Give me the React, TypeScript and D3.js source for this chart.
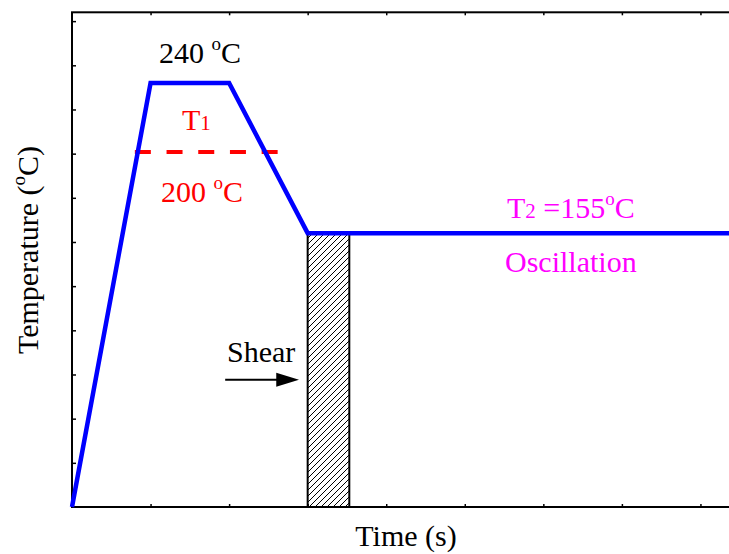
import React from "react";
import * as d3 from "d3";

// temperature program (time in arbitrary units, one tick = one unit)
const time = [0, 1, 2, 3, 9];
const temperature = [0, 240, 240, 155, 155];

// T1 dashed level and shear window
const t1Level = 201;
const t1Span = [0.8, 2.62];
const shearSpan = [3, 3.53];
const shearTop = 155;

const xTicks = d3.range(1, 9);
const yTicks = d3.range(25, 280, 25);

const W = 729;
const H = 554;
const FONT = "'Liberation Serif', 'Times New Roman', serif";

export default function App() {
  const ref = React.useRef<SVGSVGElement>(null);

  React.useEffect(() => {
    const svg = d3.select(ref.current);
    svg.selectAll("*").remove();

    const x = d3.scaleLinear().domain([0, 9]).range([72, 779]);
    const y = d3.scaleLinear().domain([0, 280]).range([507, 12.3]);

    const defs = svg.append("defs");
    const pat = defs
      .append("pattern")
      .attr("id", "hatch")
      .attr("patternUnits", "userSpaceOnUse")
      .attr("width", 6)
      .attr("height", 6);
    pat.append("path")
      .attr("d", "M-1,1 l2,-2 M0,6 l6,-6 M5,7 l2,-2")
      .attr("stroke", "#000")
      .attr("stroke-width", 1);

    // axes frame
    svg.append("rect")
      .attr("x", x(0))
      .attr("y", y(280))
      .attr("width", x(9) - x(0))
      .attr("height", y(0) - y(280))
      .attr("fill", "none")
      .attr("stroke", "#000")
      .attr("stroke-width", 2);

    svg.append("g")
      .attr("transform", `translate(0,${y(0)})`)
      .call(d3.axisBottom(x).tickValues(xTicks).tickSizeInner(-3).tickSizeOuter(0).tickFormat(() => ""))
      .call((g) => g.select(".domain").remove());
    svg.append("g")
      .attr("transform", `translate(0,${y(280)})`)
      .call(d3.axisTop(x).tickValues(xTicks).tickSizeInner(-3).tickSizeOuter(0).tickFormat(() => ""))
      .call((g) => g.select(".domain").remove());
    svg.append("g")
      .attr("transform", `translate(${x(0)},0)`)
      .call(d3.axisLeft(y).tickValues(yTicks).tickSizeInner(-4).tickSizeOuter(0).tickFormat(() => ""))
      .call((g) => g.select(".domain").remove());
    svg.selectAll(".tick line").attr("stroke-width", 1.5);

    // shear block
    svg.append("rect")
      .attr("x", x(shearSpan[0]))
      .attr("y", y(shearTop))
      .attr("width", x(shearSpan[1]) - x(shearSpan[0]))
      .attr("height", y(0) - y(shearTop))
      .attr("fill", "url(#hatch)")
      .attr("stroke", "#000")
      .attr("stroke-width", 2);

    // T1 dashed line
    svg.append("line")
      .attr("x1", x(t1Span[0]))
      .attr("x2", x(t1Span[1]))
      .attr("y1", y(t1Level))
      .attr("y2", y(t1Level))
      .attr("stroke", "#ff0000")
      .attr("stroke-width", 4)
      .attr("stroke-dasharray", "16,15.7");

    const line = d3
      .line<number>()
      .x((d, i) => x(time[i]))
      .y((d) => y(d));
    svg.append("path")
      .attr("d", line(temperature))
      .attr("fill", "none")
      .attr("stroke", "#0000ff")
      .attr("stroke-width", 4.5)
      .attr("stroke-linejoin", "miter");

    // shear arrow
    const ay = y(72);
    svg.append("line")
      .attr("x1", x(1.95))
      .attr("x2", x(2.62))
      .attr("y1", ay)
      .attr("y2", ay)
      .attr("stroke", "#000")
      .attr("stroke-width", 2);
    svg.append("path")
      .attr("d", `M${x(2.89)},${ay} L${x(2.6)},${ay - 7} L${x(2.6)},${ay + 7} Z`)
      .attr("fill", "#000");

    const label = (px: number, py: number, color: string) =>
      svg.append("text")
        .attr("x", px)
        .attr("y", py)
        .attr("fill", color)
        .attr("font-family", FONT)
        .attr("font-size", 30);

    const degree = (t: d3.Selection<SVGTextElement, unknown, null, undefined>, before: string) => {
      t.append("tspan").text(before);
      t.append("tspan").attr("font-size", 19).attr("dy", -13).text("o");
      t.append("tspan").attr("dy", 13).text("C");
    };

    degree(label(159, 63, "#000"), "240 ");
    degree(label(161, 202, "#ff0000"), "200 ");

    const t1 = label(182, 130, "#ff0000");
    t1.append("tspan").text("T");
    t1.append("tspan").attr("font-size", 21).text("1");

    const t2 = label(507, 218, "#ff00ff");
    t2.append("tspan").text("T");
    t2.append("tspan").attr("font-size", 21).text("2");
    degree(t2, " =155");

    label(505, 272, "#ff00ff").text("Oscillation");
    label(227, 362, "#000").text("Shear");

    label(406, 546, "#000").attr("text-anchor", "middle").text("Time (s)");

    const yl = svg.append("text")
      .attr("transform", `translate(38,250) rotate(-90)`)
      .attr("text-anchor", "middle")
      .attr("font-family", FONT)
      .attr("font-size", 30);
    degree(yl, "Temperature (");
    yl.append("tspan").text(")");
  }, []);

  return (
    <svg
      ref={ref}
      width={W}
      height={H}
      style={{ position: "absolute", left: 0, top: 0, background: "#fff" }}
    />
  );
}
